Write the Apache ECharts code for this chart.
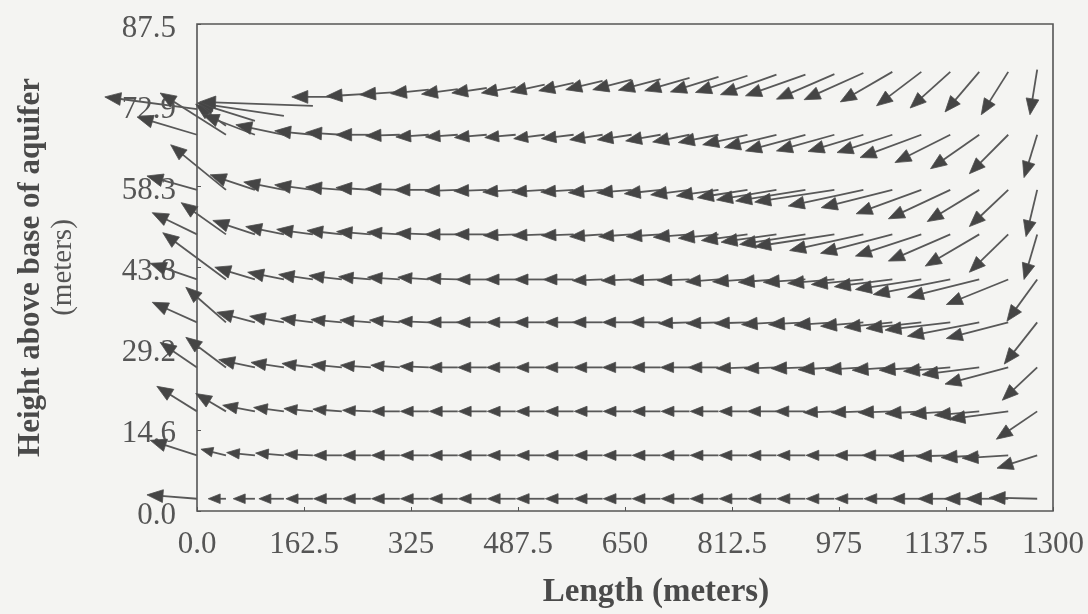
<!DOCTYPE html>
<html>
<head>
<meta charset="utf-8">
<script src="https://cdn.jsdelivr.net/npm/echarts@6/dist/echarts.min.js"></script>
<style>
  html, body { margin: 0; padding: 0; background: #f4f4f2; }
  #chart { width: 1088px; height: 614px; }
</style>
</head>
<body>
<div id="chart"></div>
<script>
// grid columns (m along the aquifer) and layer heights (m)
var colX = [0, 44, 88, 132, 176, 220, 264, 308, 352, 396, 440, 484, 528, 572, 616,
  660, 704, 748, 792, 836, 880, 924, 968, 1012, 1056, 1100, 1144, 1188, 1232, 1276];
// top layer follows the water table, so it gets its own heights
var topY = [72.2, 69.2, 70.1, 71.0, 72.8, 74.4, 75.0, 75.3, 75.7, 75.8, 76.0, 76.2, 76.6, 76.9, 77.3,
  77.5, 77.6, 77.8, 78.0, 78.2, 78.4, 78.4, 78.5, 78.7, 78.9, 78.9, 78.9, 78.9, 78.9, 79.3];
var rowY = [67.6, 57.7, 49.7, 41.6, 33.9, 25.8, 17.9, 10.0, 2.2];

var xTicks = ["0.0", "162.5", "325", "487.5", "650", "812.5", "975", "1137.5", "1300"];
var yTicks = ["0.0", "14.6", "29.2", "43.8", "58.3", "72.9", "87.5"];

// arrow components, u along length (m), v along height (m), one pair per layer (top to bottom)
var u1 = [-140, -46, -87, -131, -172, -76, -68, -61, -58, -55, -53, -52, -52, -53, -56, -59, -64, -68, -73, -79, -85, -91, -88, -90, -79, -68, -61, -52, -41, -11];
var v1 = [2.2, 3.9, 3.2, 2.3, 0.7, 0, -0.5, -0.5, -0.7, -0.9, -0.9, -1.1, -1.3, -1.4, -1.6, -1.8, -2.0, -2.3, -2.7, -3.0, -3.6, -3.8, -4.5, -4.8, -5.4, -6.1, -6.5, -7.2, -7.7, -8.1];
var u2 = [-91, -100, -79, -73, -58, -55, -53, -52, -50, -49, -49, -47, -47, -49, -50, -52, -53, -56, -61, -68, -79, -91, -88, -84, -84, -93, -84, -74, -59, -20];
var v2 = [3.2, 7.5, 3.6, 1.8, 0.7, 0.4, 0, -0.2, -0.4, -0.4, -0.5, -0.5, -0.7, -0.7, -0.9, -0.9, -1.1, -1.3, -1.4, -1.8, -2.3, -2.9, -2.9, -3.0, -3.2, -4.1, -5.0, -6.1, -7.0, -7.7];
var u3 = [-76, -84, -68, -61, -58, -55, -53, -52, -52, -50, -50, -50, -50, -50, -52, -53, -55, -59, -64, -76, -91, -106, -121, -114, -108, -99, -94, -79, -59, -17];
var v3 = [2.5, 8.1, 2.7, 1.4, 0.9, 0.5, 0.4, 0.2, 0, -0.2, -0.2, -0.4, -0.4, -0.4, -0.5, -0.5, -0.7, -0.9, -1.1, -1.4, -1.8, -2.0, -2.2, -2.9, -3.2, -4.3, -5.2, -5.7, -6.6, -8.4];
var u4 = [-68, -68, -64, -58, -55, -53, -52, -50, -50, -49, -49, -49, -49, -49, -50, -50, -52, -55, -61, -70, -84, -100, -121, -112, -109, -100, -94, -82, -59, -20];
var v4 = [3.9, 5.7, 2.5, 1.4, 0.9, 0.7, 0.5, 0.4, 0.2, 0, 0, -0.2, -0.2, -0.2, -0.4, -0.4, -0.4, -0.5, -0.7, -1.1, -1.4, -1.8, -2.2, -2.9, -3.4, -3.9, -4.8, -5.7, -6.8, -8.1];
var u5 = [-71, -96, -61, -55, -52, -50, -49, -49, -47, -47, -46, -46, -46, -46, -46, -46, -47, -49, -50, -53, -58, -64, -71, -79, -88, -100, -117, -109, -94, -46];
var v5 = [2.9, 8.4, 2.2, 1.3, 0.9, 0.7, 0.5, 0.4, 0.4, 0.2, 0, 0, 0, 0, -0.2, -0.2, -0.2, -0.2, -0.4, -0.4, -0.5, -0.5, -0.7, -0.9, -1.3, -1.8, -2.7, -3.2, -4.5, -7.5];
var u6 = [-68, -61, -58, -52, -49, -47, -47, -46, -46, -46, -46, -44, -46, -44, -46, -44, -46, -47, -49, -50, -53, -56, -61, -65, -73, -84, -99, -109, -94, -50];
var v6 = [3.6, 6.3, 1.8, 1.1, 0.7, 0.5, 0.4, 0.4, 0.2, 0, 0, 0, 0, 0, 0, 0, 0, -0.2, -0.2, -0.2, -0.4, -0.4, -0.5, -0.7, -0.9, -1.1, -1.4, -2.5, -2.9, -7.5];
var u7 = [-56, -61, -55, -50, -47, -46, -46, -44, -44, -44, -44, -44, -44, -44, -44, -44, -44, -44, -46, -47, -49, -52, -55, -58, -61, -64, -71, -87, -96, -53];
var v7 = [4.5, 5.4, 1.4, 0.9, 0.7, 0.5, 0.4, 0.4, 0.2, 0, 0, 0, 0, 0, 0, 0, 0, 0, 0, -0.2, -0.2, -0.2, -0.4, -0.4, -0.5, -0.5, -0.7, -1.3, -3.0, -5.9];
var u8 = [-61, -46, -49, -46, -44, -44, -43, -43, -43, -43, -43, -43, -43, -43, -43, -43, -43, -43, -43, -43, -44, -46, -47, -49, -52, -55, -61, -68, -90, -62];
var v8 = [4.5, 3.2, 1.1, 0.7, 0.5, 0.4, 0.2, 0, 0, 0, 0, 0, 0, 0, 0, 0, 0, 0, 0, 0, 0, 0, -0.2, -0.2, -0.2, -0.4, -0.5, -0.7, -1.4, -5.0];
var u9 = [-71, -38, -43, -43, -43, -43, -43, -43, -43, -43, -43, -43, -43, -43, -43, -43, -43, -43, -43, -43, -43, -43, -43, -44, -46, -49, -52, -58, -70, -61];
var v9 = [2.7, 1.1, 0.5, 0.4, 0.2, 0, 0, 0, 0, 0, 0, 0, 0, 0, 0, 0, 0, 0, 0, 0, 0, 0, 0, 0, 0, -0.2, -0.2, -0.4, -0.5, -2.3];
var u10 = [-76, -27, -33, -38, -41, -43, -43, -43, -43, -43, -43, -43, -43, -43, -43, -43, -43, -43, -43, -43, -43, -43, -43, -43, -43, -46, -49, -53, -65, -73];
var v10 = [0.7, 0, 0, 0, 0, 0, 0, 0, 0, 0, 0, 0, 0, 0, 0, 0, 0, 0, 0, 0, 0, 0, 0, 0, 0, 0, 0, 0, 0, 0.2];

var uRows = [u1, u2, u3, u4, u5, u6, u7, u8, u9, u10];
var vRows = [v1, v2, v3, v4, v5, v6, v7, v8, v9, v10];

var arrows = [];
for (var r = 0; r < uRows.length; r++) {
  for (var c = 0; c < colX.length; c++) {
    var y = r === 0 ? topY[c] : rowY[r - 1];
    arrows.push([colX[c], y, uRows[r][c], vRows[r][c]]);
  }
}

var font = "'Liberation Serif', 'DejaVu Serif', serif";

function renderArrow(params, api) {
  var x = api.value(0), y = api.value(1);
  var p0 = api.coord([x, y]);
  var p1 = api.coord([x + api.value(2), y + api.value(3)]);
  var dx = p1[0] - p0[0], dy = p1[1] - p0[1];
  var len = Math.sqrt(dx * dx + dy * dy) || 1;
  var ux = dx / len, uy = dy / len;
  var hl = Math.max(12, Math.min(16, len * 0.45));
  var hw = hl * 0.4;
  var bx = p1[0] - ux * hl, by = p1[1] - uy * hl;
  return {
    type: "group",
    children: [
      {
        type: "line",
        shape: { x1: p0[0], y1: p0[1], x2: bx + ux * 2, y2: by + uy * 2 },
        style: { stroke: "#585858", lineWidth: 1.8 }
      },
      {
        type: "polygon",
        shape: { points: [[p1[0], p1[1]], [bx - uy * hw, by + ux * hw], [bx + uy * hw, by - ux * hw]] },
        style: { fill: "#454545", stroke: "#4e4e4e", lineWidth: 0.8 }
      }
    ]
  };
}

var myChart = echarts.init(document.getElementById("chart"));
myChart.setOption({
  backgroundColor: "#f4f4f2",
  animation: false,
  grid: {
    left: 197,
    right: 35,
    top: 24,
    bottom: 102,
    show: true,
    borderColor: "#555",
    borderWidth: 1.6,
    backgroundColor: "transparent"
  },
  xAxis: {
    type: "value",
    min: 0,
    max: 1300,
    interval: 162.5,
    axisLine: { show: false },
    axisTick: { show: true, inside: true, length: 4, lineStyle: { color: "#555" } },
    splitLine: { show: false },
    axisLabel: {
      margin: 18,
      fontFamily: font,
      fontSize: 31,
      color: "#555",
      formatter: function (v) { return xTicks[Math.round(v / 162.5)]; }
    },
    name: "Length (meters)",
    nameLocation: "middle",
    nameGap: 65,
    nameTextStyle: {
      fontFamily: font,
      fontWeight: "bold",
      fontSize: 33,
      color: "#4a4a4a",
      padding: [0, 0, 0, 62]
    }
  },
  yAxis: {
    type: "value",
    min: 0,
    max: 87.5,
    interval: 87.5 / 6,
    axisLine: { show: false },
    axisTick: { show: true, inside: true, length: 4, lineStyle: { color: "#555" } },
    splitLine: { show: false },
    axisLabel: {
      margin: 21,
      fontFamily: font,
      fontSize: 31,
      color: "#555",
      verticalAlign: "top",
      lineHeight: 31,
      padding: [-11, 0, 0, 0],
      formatter: function (v) { return yTicks[Math.round(v / (87.5 / 6))]; }
    },
    name: "{a|Height above base of aquifer}\n{b|(meters)}",
    nameLocation: "middle",
    nameRotate: 90,
    nameGap: 118,
    nameTextStyle: {
      align: "center",
      rich: {
        a: { fontFamily: font, fontWeight: "bold", fontSize: 31, color: "#4a4a4a", lineHeight: 32 },
        b: { fontFamily: font, fontSize: 29, color: "#555", lineHeight: 32 }
      }
    }
  },
  series: [
    {
      type: "custom",
      coordinateSystem: "cartesian2d",
      renderItem: renderArrow,
      clip: false,
      encode: { x: 0, y: 1 },
      data: arrows,
      silent: true
    }
  ]
});
</script>
</body>
</html>
